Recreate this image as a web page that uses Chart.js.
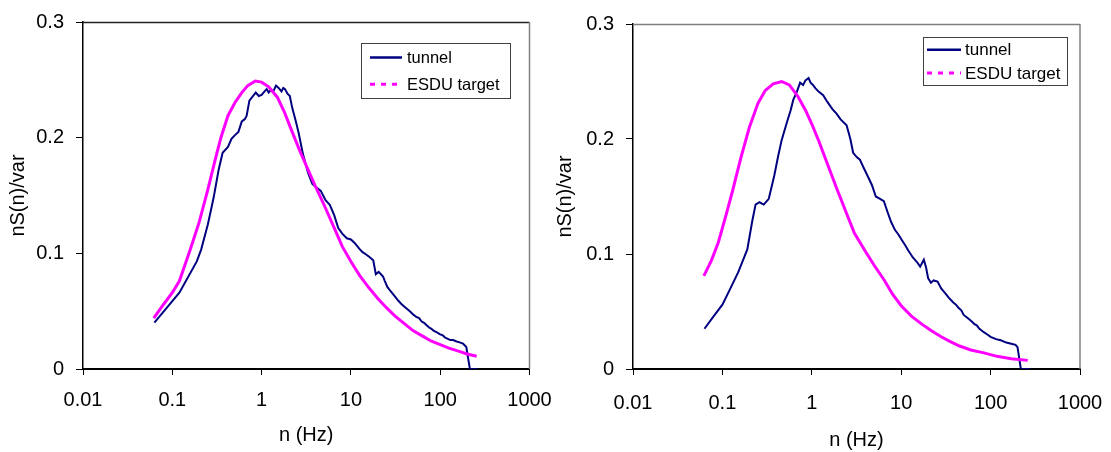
<!DOCTYPE html>
<html>
<head>
<meta charset="utf-8">
<script src="https://cdn.jsdelivr.net/npm/chart.js@4.4.0/dist/chart.umd.min.js"></script>
<style>
  body { margin: 0; background: #fff; }
  #wrapL { position: absolute; left: 0; top: 0; width: 553px; height: 452px; }
  #wrapR { position: absolute; left: 553px; top: 0; width: 558px; height: 452px; }
</style>
</head>
<body>
<div id="wrapL"><canvas id="chartL"></canvas></div>
<div id="wrapR"><canvas id="chartR"></canvas></div>
<script>
// axis ticks
var xTickValues = [0.01, 0.1, 1, 10, 100, 1000];
var xTickLabels = ['0.01', '0.1', '1', '10', '100', '1000'];
var yTickValues = [0, 0.1, 0.2, 0.3];
var yTickLabels = ['0', '0.1', '0.2', '0.3'];
var seriesNames = ['tunnel', 'ESDU target'];

// left chart - tunnel
var leftTunnelN = [0.063, 0.12, 0.188, 0.21, 0.25, 0.29, 0.33, 0.366, 0.42, 0.46, 0.5, 0.55, 0.6, 0.65, 0.68, 0.73, 0.8, 0.86, 0.93, 1.0,
  1.08, 1.14, 1.2, 1.26, 1.35, 1.45, 1.55, 1.67, 1.75, 1.83, 1.95, 2.07, 2.2, 2.4, 2.6, 2.9, 3.3, 3.7, 4.1, 4.6,
  5.2, 5.8, 6.5, 7.2, 8.0, 9.0, 10, 11, 12.4, 13.5, 14.8, 16, 17.8, 19, 20.5, 22.9, 24, 25.6, 28, 30.9,
  34, 37, 41, 44, 47, 50, 54, 58, 62, 66, 70, 75, 79, 85, 90, 100, 107, 114, 122, 130, 140, 150, 165, 180, 196, 215, 262];
var leftTunnelV = [0.040, 0.066, 0.093, 0.103, 0.125, 0.148, 0.172, 0.187, 0.192, 0.199, 0.202, 0.205, 0.214, 0.216, 0.219, 0.232, 0.236, 0.239, 0.236, 0.237,
  0.240, 0.242, 0.239, 0.241, 0.240, 0.245, 0.243, 0.240, 0.243, 0.242, 0.238, 0.236, 0.226, 0.215, 0.204, 0.186, 0.170, 0.160, 0.157, 0.154,
  0.146, 0.142, 0.133, 0.122, 0.117, 0.113, 0.112, 0.109, 0.104, 0.101, 0.099, 0.097, 0.094, 0.082, 0.084, 0.080, 0.076, 0.071, 0.067, 0.063,
  0.059, 0.056, 0.053, 0.051, 0.049, 0.047, 0.045, 0.044, 0.041, 0.040, 0.038, 0.036, 0.035, 0.033, 0.032, 0.030, 0.029, 0.027, 0.026, 0.025, 0.025, 0.024, 0.023, 0.022, 0.019, 0, 0];

// left chart - ESDU target
var leftTargetN = [0.062, 0.08, 0.1, 0.12, 0.16, 0.2, 0.25, 0.3, 0.35, 0.42, 0.5, 0.6, 0.7, 0.85, 1.0, 1.2, 1.5, 1.8, 2.2, 2.7,
  3.2, 4, 5, 6.5, 8, 10, 12.5, 16, 20, 25, 31, 40, 50, 65, 80, 100, 125, 160, 200, 256];
var leftTargetV = [0.044, 0.056, 0.066, 0.076, 0.104, 0.127, 0.155, 0.180, 0.200, 0.219, 0.230, 0.239, 0.245, 0.249, 0.248, 0.244, 0.235, 0.222, 0.205, 0.188,
  0.175, 0.158, 0.142, 0.122, 0.106, 0.093, 0.081, 0.070, 0.061, 0.053, 0.046, 0.039, 0.033, 0.028, 0.024, 0.021, 0.018, 0.0155, 0.013, 0.011];

// right chart - tunnel
var rightTunnelN = [0.063, 0.08, 0.1, 0.121, 0.15, 0.19, 0.215, 0.235, 0.26, 0.29, 0.33, 0.38, 0.42, 0.46, 0.52, 0.58, 0.62, 0.68, 0.74, 0.8,
  0.85, 0.92, 0.97, 1.03, 1.1, 1.2, 1.34, 1.5, 1.7, 1.89, 2.1, 2.45, 2.7, 2.9, 3.2, 3.45, 3.8, 4.2, 4.7, 5.2,
  5.8, 6.4, 7, 7.7, 8.5, 9.3, 10.2, 11, 12, 13.5, 15, 16.3, 17.9, 19, 20, 21.5, 23, 25.5, 28, 31,
  34, 38, 41, 44, 47, 50, 54, 58, 62, 66, 70, 75, 84, 92, 100, 115, 130, 150, 170, 190, 200, 218, 278];
var rightTunnelV = [0.035, 0.046, 0.056, 0.069, 0.084, 0.104, 0.128, 0.143, 0.145, 0.143, 0.148, 0.168, 0.185, 0.199, 0.213, 0.225, 0.234, 0.241, 0.249, 0.247,
  0.251, 0.253, 0.249, 0.247, 0.244, 0.241, 0.238, 0.232, 0.226, 0.222, 0.217, 0.212, 0.200, 0.188, 0.184, 0.182, 0.175, 0.168, 0.160, 0.150,
  0.148, 0.146, 0.137, 0.128, 0.121, 0.117, 0.112, 0.108, 0.103, 0.097, 0.093, 0.089, 0.095, 0.088, 0.079, 0.075, 0.077, 0.076, 0.070, 0.066,
  0.062, 0.058, 0.056, 0.053, 0.051, 0.047, 0.045, 0.043, 0.041, 0.039, 0.038, 0.035, 0.032, 0.030, 0.028, 0.026, 0.025, 0.023, 0.022, 0.021, 0.019, 0, 0];

// right chart - ESDU target
var rightTargetN = [0.062, 0.075, 0.09, 0.11, 0.13, 0.16, 0.2, 0.25, 0.3, 0.37, 0.46, 0.56, 0.7, 0.85, 1.0, 1.2, 1.5, 1.9, 2.4, 3,
  4, 5, 6.5, 8, 10, 13, 17, 22, 28, 35, 45, 60, 84, 118, 170, 260];
var rightTargetV = [0.081, 0.094, 0.110, 0.134, 0.155, 0.183, 0.210, 0.231, 0.242, 0.248, 0.250, 0.247, 0.237, 0.225, 0.213, 0.198, 0.178, 0.157, 0.137, 0.118,
  0.102, 0.090, 0.077, 0.065, 0.055, 0.046, 0.039, 0.033, 0.028, 0.024, 0.020, 0.0165, 0.014, 0.011, 0.009, 0.0075];

function toPoints(ns, vs) {
  var pts = [];
  for (var i = 0; i < ns.length; i++) pts.push({x: ns[i], y: vs[i]});
  return pts;
}

var fontFam = 'Arial, "Liberation Sans", sans-serif';

// legend box + plot frame (top/right) like the excel chart
var framePlugin = {
  id: 'frameBox',
  afterDraw: function(chart, args, opts) {
    var ctx = chart.ctx, a = chart.chartArea;
    ctx.save();
    ctx.lineWidth = 1.5;
    ctx.strokeStyle = opts.topColor;
    ctx.beginPath();
    ctx.moveTo(a.left, a.top + 0.5);
    ctx.lineTo(a.right, a.top + 0.5);
    ctx.stroke();
    ctx.strokeStyle = '#808080';
    ctx.beginPath();
    ctx.moveTo(a.right, a.top);
    ctx.lineTo(a.right, a.bottom);
    ctx.stroke();

    var L = opts.legend;
    ctx.fillStyle = '#fff';
    ctx.fillRect(L.x, L.y, L.w, L.h);
    ctx.lineWidth = 1;
    ctx.strokeStyle = '#404040';
    ctx.strokeRect(L.x + 0.5, L.y + 0.5, L.w, L.h);
    ctx.font = L.font + 'px ' + fontFam;
    ctx.textBaseline = 'middle';
    chart.data.datasets.forEach(function(ds, i) {
      var yy = L.y + L.row0 + i * L.rowH;
      ctx.strokeStyle = ds.borderColor;
      ctx.lineWidth = ds.legendWidth;
      ctx.setLineDash(i === 1 ? [5, 6] : []);
      ctx.beginPath();
      ctx.moveTo(L.x + L.line0, yy);
      ctx.lineTo(L.x + L.line1, yy);
      ctx.stroke();
      ctx.setLineDash([]);
      ctx.fillStyle = '#000';
      ctx.fillText(ds.label, L.x + L.text0, yy + 1);
    });
    ctx.restore();
  }
};

function makeChart(id, tunnel, target, cfg) {
  return new Chart(document.getElementById(id), {
    type: 'line',
    data: {
      datasets: [
        {label: seriesNames[0], data: tunnel, borderColor: '#000080', borderWidth: 2, legendWidth: 2.5,
          pointRadius: 0, tension: 0, order: 1},
        {label: seriesNames[1], data: target, borderColor: '#ff00ff', borderWidth: 3, legendWidth: 3,
          pointRadius: 0, tension: 0, order: 0}
      ]
    },
    options: {
      responsive: true,
      maintainAspectRatio: false,
      animation: false,
      layout: {padding: {top: cfg.top, right: cfg.right, left: 0, bottom: 0}},
      plugins: {
        legend: {display: false},
        tooltip: {enabled: false},
        frameBox: {topColor: cfg.topColor, legend: cfg.legend}
      },
      scales: {
        x: {
          type: 'logarithmic',
          min: 0.01,
          max: 1000,
          afterBuildTicks: function(s) {
            s.ticks = xTickValues.map(function(v) { return {value: v}; });
          },
          afterFit: function(s) {
            s.height = 83;
            s.paddingLeft = 0;
            s.paddingRight = 0;
          },
          ticks: {
            color: '#000', padding: cfg.xPad, maxRotation: 0, autoSkip: false,
            font: {family: fontFam, size: 20},
            callback: function(v) { return xTickLabels[xTickValues.indexOf(v)]; }
          },
          grid: {drawOnChartArea: false, drawTicks: true, tickLength: 6, color: '#000'},
          border: {color: '#000', width: 2},
          title: {display: true, text: 'n (Hz)', color: '#000', font: {family: fontFam, size: 20},
            padding: {top: 0, bottom: cfg.xTitlePad}}
        },
        y: {
          min: 0,
          max: 0.3,
          afterBuildTicks: function(s) {
            s.ticks = yTickValues.map(function(v) { return {value: v}; });
          },
          afterFit: function(s) {
            s.width = cfg.yWidth;
            s.paddingTop = 0;
            s.paddingBottom = 0;
          },
          ticks: {
            color: '#000', padding: 12,
            font: {family: fontFam, size: 20},
            callback: function(v, i) { return yTickLabels[i]; }
          },
          grid: {drawOnChartArea: false, drawTicks: true, tickLength: 7, color: '#000'},
          border: {color: '#000', width: 1.5},
          title: {display: true, text: 'nS(n)/var', color: '#000', font: {family: fontFam, size: 20},
            padding: {top: cfg.yTitlePad, bottom: 0}}
        }
      }
    },
    plugins: [framePlugin]
  });
}

makeChart('chartL', toPoints(leftTunnelN, leftTunnelV), toPoints(leftTargetN, leftTargetV), {
  top: 22, right: 23.5, yWidth: 83, xPad: 13, xTitlePad: 5, yTitlePad: 6, topColor: '#202020',
  legend: {x: 361, y: 43, w: 149, h: 55, row0: 14.5, rowH: 26.7, line0: 9, line1: 41, text0: 46, font: 16.5}
});
makeChart('chartR', toPoints(rightTunnelN, rightTunnelV), toPoints(rightTargetN, rightTargetV), {
  top: 24, right: 31, yWidth: 80, xPad: 16, xTitlePad: 0, yTitlePad: 0, topColor: '#808080',
  legend: {x: 370, y: 37, w: 144, h: 48, row0: 12.7, rowH: 23.3, line0: 4, line1: 38, text0: 42, font: 17}
});
</script>
</body>
</html>
